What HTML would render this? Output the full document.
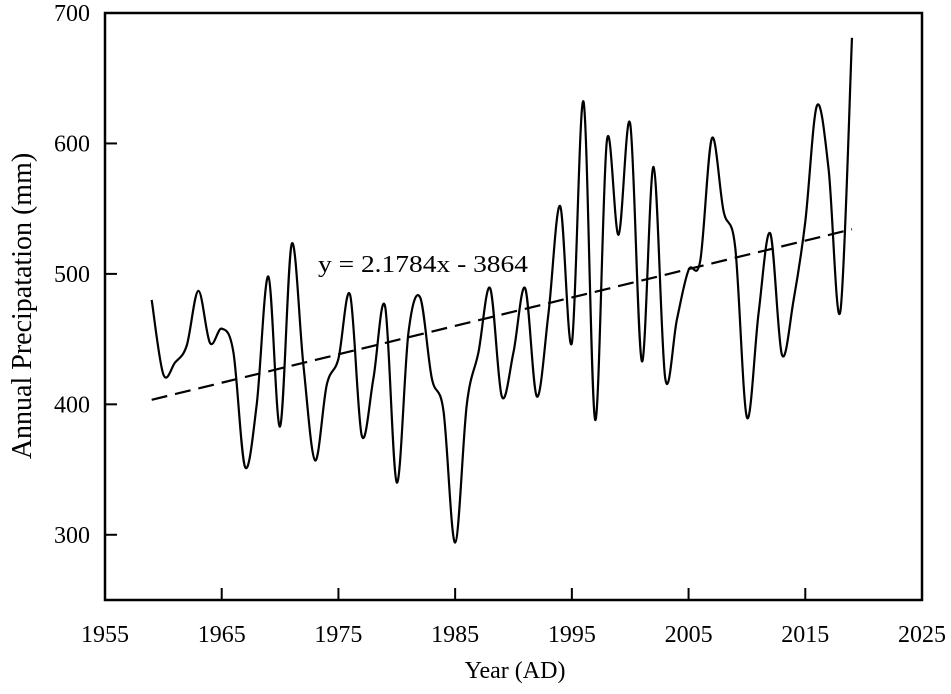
<!DOCTYPE html>
<html><head><meta charset="utf-8"><style>
html,body{margin:0;padding:0;background:#fff;}
svg{display:block;font-family:"Liberation Serif",serif;}
</style></head><body>
<svg id="chart" width="951" height="694">
<rect x="105" y="13" width="817" height="587" fill="none" stroke="#000" stroke-width="2.5"/>
<g id="xt"></g>
<g id="yt"></g>
<path id="trend" fill="none" stroke="#000" stroke-width="2.2" stroke-dasharray="16,8"/>
<path id="series" fill="none" stroke="#000" stroke-width="2.2"/>
<text x="318" y="272" font-size="24" textLength="210" lengthAdjust="spacingAndGlyphs">y = 2.1784x - 3864</text>
<text x="515" y="678" font-size="24" text-anchor="middle">Year (AD)</text>
<text transform="translate(31,306) rotate(-90)" font-size="28" text-anchor="middle">Annual Precipatation (mm)</text>
</svg>
<script>
const years=[];for(let y=1959;y<=2019;y++)years.push(y);
const precip=[480,423,432,445,487,447,458,440,352,400,498,383,523,430,357,415,435,484,376,420,475,340,455,482,420,395,294,400,440,489,406,440,489,406,470,552,447,632,388,602,530,615,433,582,420,465,503,510,604,548,520,390,470,531,438,480,540,629,580,471,681];
const xTicks=[1955,1965,1975,1985,1995,2005,2015,2025];
const yTicks=[300,400,500,600,700];
const trendSlope=2.1784, trendIntercept=-3864;
const X0=105,X1=922,Y0=600,Y1=13,xMin=1955,xMax=2025,yMin=250,yMax=700;
const sx=v=>X0+(v-xMin)*(X1-X0)/(xMax-xMin);
const sy=v=>Y0-(v-yMin)*(Y0-Y1)/(yMax-yMin);
const NS='http://www.w3.org/2000/svg';
const xt=document.getElementById('xt'),yt=document.getElementById('yt');
xTicks.forEach(t=>{
  if(t>xMin&&t<xMax){const l=document.createElementNS(NS,'line');
  
  
  l.setAttribute('x1',sx(t));l.setAttribute('x2',sx(t));l.setAttribute('y1',Y0);l.setAttribute('y2',Y0-12);l.setAttribute('stroke','#000');l.setAttribute('stroke-width','2');
  xt.appendChild(l);}
  const tx=document.createElementNS(NS,'text');
  
  
  tx.setAttribute('x',sx(t));tx.setAttribute('y',642);tx.setAttribute('font-size','24');tx.setAttribute('text-anchor','middle');
  tx.textContent=t;xt.appendChild(tx);
});
yTicks.forEach(t=>{
  if(t<yMax){const l=document.createElementNS(NS,'line');
  
  
  l.setAttribute('x1',X0);l.setAttribute('x2',X0+12);l.setAttribute('y1',sy(t));l.setAttribute('y2',sy(t));l.setAttribute('stroke','#000');l.setAttribute('stroke-width','2');
  yt.appendChild(l);}
  const tx=document.createElementNS(NS,'text');
  
  
  tx.setAttribute('x',X0-15);tx.setAttribute('y',sy(t)+8);tx.setAttribute('font-size','24');tx.setAttribute('text-anchor','end');
  tx.textContent=t;yt.appendChild(tx);
});
const pts=years.map((y,i)=>[sx(y),sy(precip[i])]);
let d='M'+pts[0][0]+','+pts[0][1];
for(let i=0;i<pts.length-1;i++){
  const p0=pts[Math.max(0,i-1)],p1=pts[i],p2=pts[i+1],p3=pts[Math.min(pts.length-1,i+2)];
  const c1=[p1[0]+(p2[0]-p0[0])/6,p1[1]+(p2[1]-p0[1])/6];
  const c2=[p2[0]-(p3[0]-p1[0])/6,p2[1]-(p3[1]-p1[1])/6];
  d+=' C'+c1[0]+','+c1[1]+' '+c2[0]+','+c2[1]+' '+p2[0]+','+p2[1];
}
document.getElementById('series').setAttribute('d',d);
const ya=years[0],yb=years[years.length-1];
document.getElementById('trend').setAttribute('d','M'+sx(ya)+','+sy(trendSlope*ya+trendIntercept)+' L'+sx(yb)+','+sy(trendSlope*yb+trendIntercept));
</script>
</body></html>
